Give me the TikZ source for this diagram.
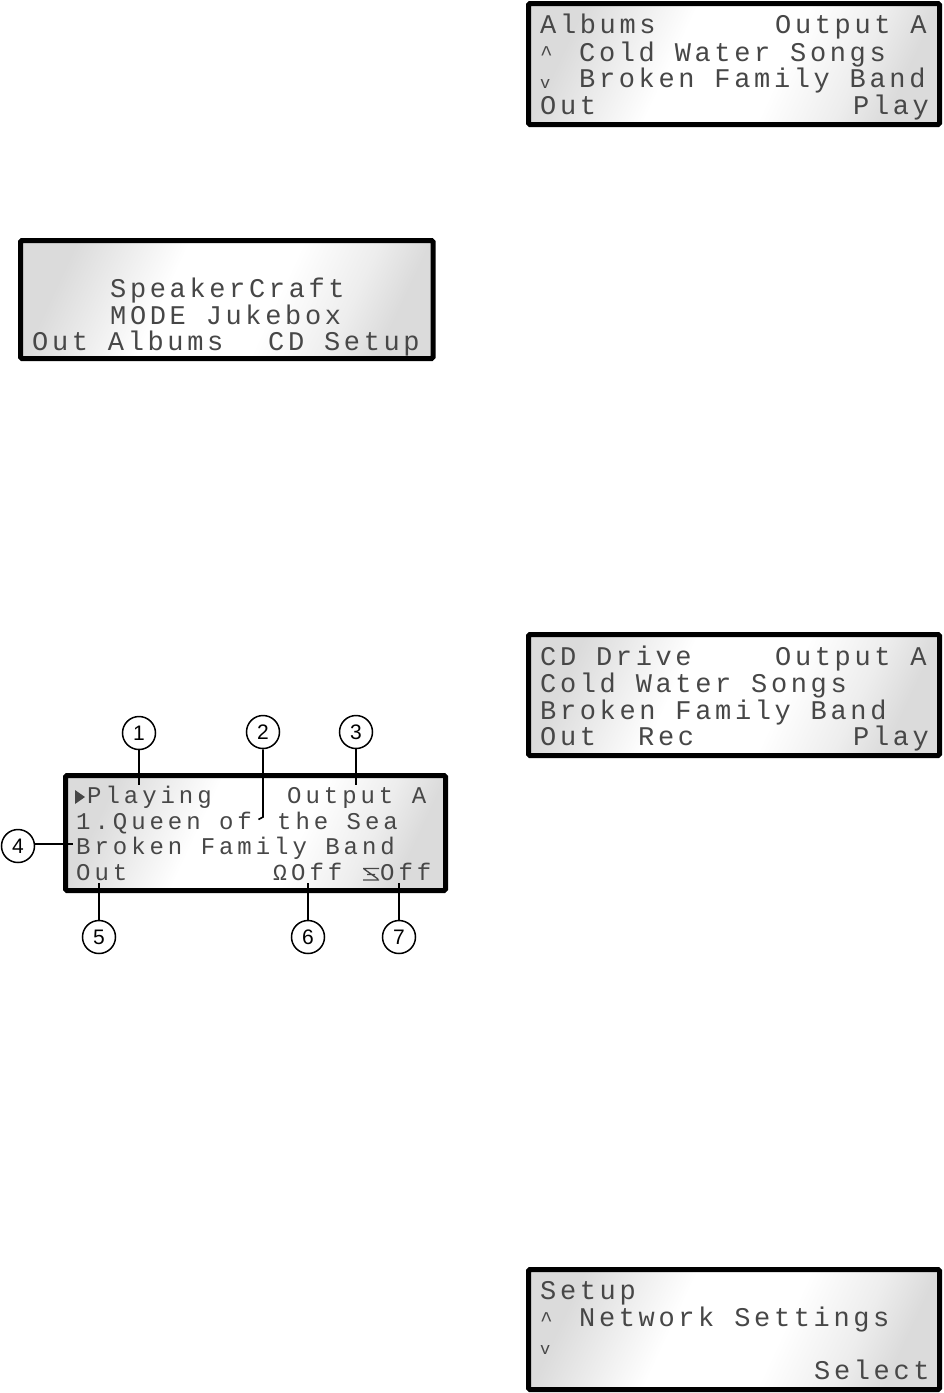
\documentclass[tikz,border=0pt]{standalone}
\usepackage{fontspec}
\setmainfont{Liberation Sans}
\newfontfamily\lcdbig[LetterSpace=13.5]{Liberation Mono}
\newfontfamily\lcdsmall[LetterSpace=16.5]{Liberation Mono}
\usetikzlibrary{calc}
\pgfdeclarehorizontalshading{lcdshade}{100bp}{%
  rgb(0bp)=(0.86,0.86,0.86); rgb(25bp)=(0.86,0.86,0.86); rgb(33bp)=(0.93,0.93,0.93); rgb(41bp)=(1,1,1); rgb(57bp)=(1,1,1);
  rgb(68bp)=(0.93,0.93,0.93); rgb(75bp)=(0.86,0.86,0.86); rgb(100bp)=(0.86,0.86,0.86)}
\colorlet{lcdink}{black!72}
\tikzset{
  panel/.style={draw=black,line width=5pt,rounded corners=1.5pt,shading=lcdshade,shading angle=-25},
  bigtxt/.style={anchor=base west,inner sep=0pt,text=lcdink,font=\lcdbig\fontsize{27}{27}\selectfont},
  smalltxt/.style={anchor=base west,inner sep=0pt,text=lcdink,font=\lcdsmall\fontsize{24}{24}\selectfont},
  callout/.style={circle,draw=black,line width=1.5pt,fill=white,minimum size=33pt,inner sep=0pt,font=\fontsize{21}{21}\selectfont},
  lead/.style={draw=black,line width=1.6pt},
}
\newcommand{\bigat}[3]{\node[bigtxt] (#1) at (#2) {#3};}
\newcommand{\smallat}[3]{\node[smalltxt] (#1) at (#2) {#3};}
\begin{document}
\begin{tikzpicture}[x=1pt,y=-1pt]
\frenchspacing
\useasboundingbox (0,0) rectangle (943,1393);
% Panel 1
\path[panel] (20.5,240.5) rectangle (433,358.5);
\bigat{sa}{110,297}{SpeakerCraft}
\bigat{sb}{110,324}{MODE Jukebox}
\bigat{sc}{32,350}{Out Albums}
\bigat{sd}{268,350}{CD Setup}
% Panel 2
\path[panel] (528.5,3.5) rectangle (939.5,124.5);
\bigat{aa}{540,33}{Albums}
\bigat{ab}{775,33}{Output A}
\bigat{ac}{540,60}{\fontsize{21}{21}\selectfont\^{}}
\bigat{ad}{579,61}{Cold Water Songs}
\node[bigtxt,font=\lcdbig\fontsize{17}{17}\selectfont] (ae) at (540,88) {v};
\bigat{af}{579,87}{Broken Family Band}
\bigat{ag}{540,114}{Out}
\bigat{ah}{853,114}{Play}
% Panel 3
\path[panel] (528.5,634.5) rectangle (939.5,755.5);
\bigat{ca}{540,665}{CD Drive}
\bigat{cb}{775,665}{Output A}
\bigat{cc}{540,692}{Cold Water Songs}
\bigat{cd}{540,719}{Broken Family Band}
\bigat{ce}{540,745}{Out}
\bigat{cf}{638,745}{Rec}
\bigat{cg}{853,745}{Play}
% Panel 4
\path[panel] (528.5,1269.5) rectangle (939.5,1389.5);
\bigat{ga}{540,1299}{Setup}
\bigat{gb}{540,1326}{\fontsize{21}{21}\selectfont\^{}}
\bigat{gc}{579,1326}{Network Settings}
\node[bigtxt,font=\lcdbig\fontsize{17}{17}\selectfont] (gd) at (540,1354) {v};
\bigat{ge}{814,1379}{Select}
% Main panel
\path[panel] (65.5,775.5) rectangle (445.5,890.5);
\fill[lcdink] (75,790) -- (85,797) -- (75,804) -- cycle;
\smallat{ma}{87,803}{Playing}
\smallat{mb}{287,803}{Output A}
\smallat{mc}{76,829}{1.Queen of}
\smallat{md}{277,829}{the Sea}
\smallat{me}{76,854}{Broken Family Band}
\smallat{mf}{76,880}{Out}
\smallat{mg}{273,880}{\fontsize{23}{23}\selectfont Ω}
\smallat{mh}{291,880}{Off}
\smallat{mi}{380,880}{Off}
\draw[lcdink,line width=1.3pt] (363,868.5) -- (379,868.5) (363,880) -- (379,880) (364,869) -- (378,879) (367,874.5) -- (375,874.5);
% Callouts
\node[callout] (c1) at (139,733) {1};
\node[callout] (c2) at (263,732) {2};
\node[callout] (c3) at (356,732) {3};
\node[callout] (c4) at (18,846) {4};
\node[callout] (c5) at (99,937) {5};
\node[callout] (c6) at (308,937) {6};
\node[callout] (c7) at (399,937) {7};
\coordinate (e1) at (139,785);
\coordinate (e2a) at (263,817);
\coordinate (e2) at (258.5,819.5);
\coordinate (e3) at (356,785);
\coordinate (e4) at (73,844);
\coordinate (e5) at (99,883);
\coordinate (e6) at (308,883);
\coordinate (e7) at (399,883);
\draw[lead] (c1) -- (e1);
\draw[lead] (c2) -- (e2a) -- (e2);
\draw[lead] (c3) -- (e3);
\draw[lead] (c4.east |- e4) -- (e4);
\draw[lead] (c5) -- (e5);
\draw[lead] (c6) -- (e6);
\draw[lead] (c7) -- (e7);
\end{tikzpicture}
\end{document}
